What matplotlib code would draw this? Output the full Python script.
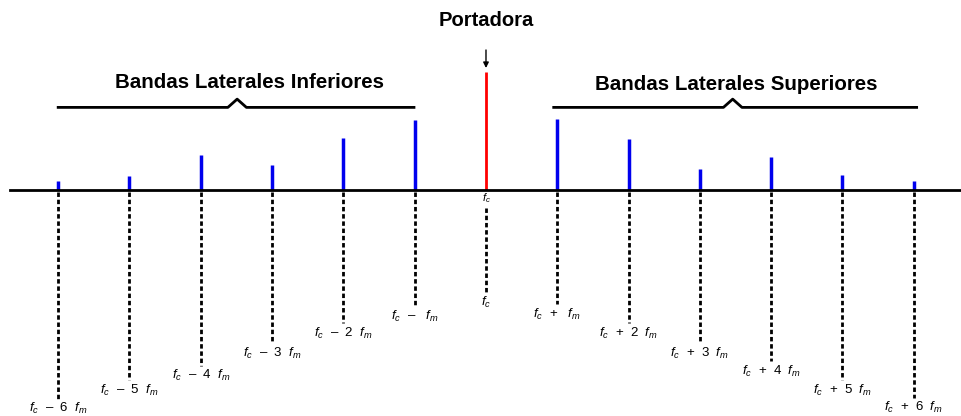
import matplotlib.pyplot as plt
import numpy as np

plt.rcParams['font.family'] = ['Liberation Sans', 'DejaVu Sans']
plt.rcParams['mathtext.fontset'] = 'custom'
plt.rcParams['mathtext.it'] = 'Liberation Sans:italic'
plt.rcParams['mathtext.rm'] = 'Liberation Sans'

# harmonic index n -> frequency fc + n*fm
orders = [-6, -5, -4, -3, -2, -1, 0, 1, 2, 3, 4, 5, 6]
# relative amplitudes (carrier = 1)
amplitudes = [0.08, 0.12, 0.30, 0.21, 0.44, 0.59, 1.00, 0.60, 0.43, 0.18, 0.28, 0.13, 0.08]
# how far each dashed guide drops below the axis
guide_depth = [1.77, 1.61, 1.49, 1.30, 1.13, 0.99, 0.87, 0.97, 1.13, 1.30, 1.45, 1.61, 1.76]


def freq_label(n):
    if n == 0:
        return '$f_c$'
    sign = '+' if n > 0 else '\u2013'
    k = abs(n)
    if k == 1:
        return '$f_c$  %s   $f_m$' % sign
    return '$f_c$  %s  %d  $f_m$' % (sign, k)


fig = plt.figure(figsize=(9.61, 4.16), dpi=100)
ax = fig.add_axes([0, 0, 1, 1])
ax.set_xlim(-6.816, 6.662)
ax.set_ylim(-1.915, 1.61)
ax.axis('off')

# frequency axis
ax.plot([-6.68, 6.662], [0, 0], color='black', lw=2, zorder=3)

for n, a, d in zip(orders, amplitudes, guide_depth):
    col = 'red' if n == 0 else '#0000ee'
    ax.plot([n, n], [0, a], color=col, lw=2.5 if n != 0 else 2, solid_capstyle='butt', zorder=2)
    top = -0.15 if n == 0 else -0.02
    ax.plot([n, n], [top, -d], color='black', lw=2, ls=(0, (1.6, 1.0)), zorder=1)
    ax.text(n, -d - 0.085, freq_label(n), ha='center', va='center', fontsize=9.5)

ax.text(0, -0.07, '$f_c$', ha='center', va='center', fontsize=8)

# carrier marker
ax.annotate('', xy=(0, 1.01), xytext=(0, 1.21),
            arrowprops=dict(arrowstyle='-|>', color='black', lw=1, mutation_scale=8))
ax.text(0, 1.44, 'Portadora', ha='center', va='center', fontsize=14.5, fontweight='bold')


def brace(x0, x1, xm, y, h):
    w = 0.13
    ax.plot([x0, xm - w, xm, xm + w, x1], [y, y, y + h, y, y], color='black', lw=2,
            solid_joinstyle='round')


brace(-6.0, -1.01, -3.49, 0.70, 0.07)
ax.text(-3.31, 0.915, 'Bandas Laterales Inferiores', ha='center', va='center',
        fontsize=14.8, fontweight='bold')
brace(0.95, 6.04, 3.46, 0.70, 0.07)
ax.text(3.51, 0.89, 'Bandas Laterales Superiores', ha='center', va='center',
        fontsize=14.8, fontweight='bold')

fig.savefig('out.png', dpi=100)
